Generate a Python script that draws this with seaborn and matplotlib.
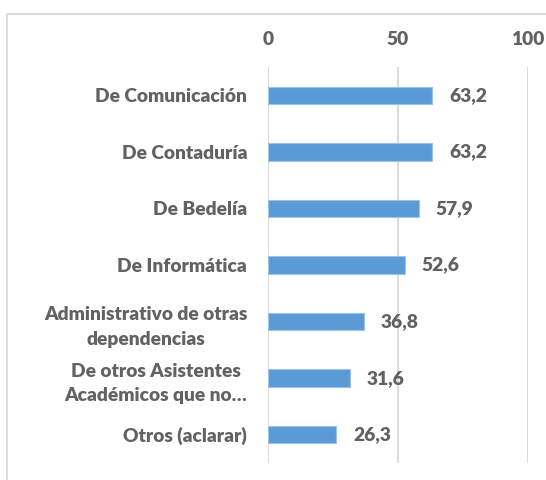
import matplotlib
matplotlib.use("Agg")
import matplotlib.pyplot as plt
from matplotlib.patches import Rectangle
import seaborn as sns
import pandas as pd

categories = [
    "De Comunicación",
    "De Contaduría",
    "De Bedelía",
    "De Informática",
    "Administrativo de otras\ndependencias",
    "De otros Asistentes\nAcadémicos que no…",
    "Otros (aclarar)",
]
values = [63.2, 63.2, 57.9, 52.6, 36.8, 31.6, 26.3]
x_ticks = [0, 50, 100]

sns.set_theme(style="white")
plt.rcParams["font.family"] = ["Lato", "DejaVu Sans"]
plt.rcParams["font.weight"] = "heavy"

text_color = "#626262"
grid_color = "#d9d9d9"
bar_color = "#5b9bd5"
font_size = 13.8

df = pd.DataFrame({"categoria": categories, "valor": values})

fig = plt.figure(figsize=(5.46, 4.80), dpi=100)
ax = fig.add_axes([268 / 546, 1 - 463 / 480, (528 - 268) / 546, (463 - 67) / 480])

sns.barplot(data=df, x="valor", y="categoria", orient="h", color=bar_color,
            saturation=1, width=0.31, edgecolor="#9cc3e8", linewidth=0.8,
            ax=ax, zorder=3)

ax.set_xlim(0, 100)
ax.set_ylim(6.5, -0.5)
ax.set_xticks(x_ticks)
ax.xaxis.tick_top()
ax.tick_params(axis="both", length=0, labelsize=font_size, colors=text_color)
ax.tick_params(axis="y", pad=15)
ax.tick_params(axis="x", pad=14)
for lab in ax.get_yticklabels():
    lab.set_multialignment("center")
    lab.set_linespacing(1.55)
ax.set_xlabel("")
ax.set_ylabel("")
for s in ax.spines.values():
    s.set_visible(False)

for x in x_ticks:
    ax.axvline(x, color=grid_color, linewidth=1.3, zorder=1)

for container in ax.containers:
    ax.bar_label(container, labels=[f"{v:.1f}".replace(".", ",") for v in values],
                 padding=12, fontsize=font_size, fontweight="heavy", color=text_color)

frame = Rectangle((7 / 546, -0.2), 1.2, 0.2 + (1 - 14 / 480), transform=fig.transFigure,
                  fill=False, edgecolor=grid_color, linewidth=1.3)
fig.patches.append(frame)

fig.savefig("out.png", dpi=100)
